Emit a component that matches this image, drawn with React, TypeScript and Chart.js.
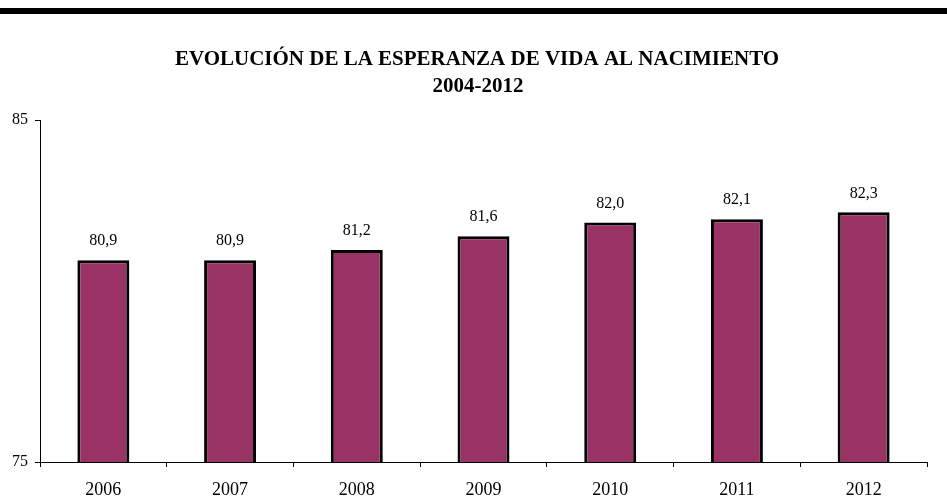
import React, { useEffect, useRef } from "react";
import { Chart, registerables } from "chart.js";

Chart.register(...registerables);

const categories = ["2006", "2007", "2008", "2009", "2010", "2011", "2012"];
const values = [80.9, 80.9, 81.2, 81.6, 82.0, 82.1, 82.3];
const yTicks = [75, 85];
const titleLines = ["EVOLUCIÓN DE LA ESPERANZA DE VIDA AL NACIMIENTO", "2004-2012"];

const SERIF = "'Liberation Serif', 'Times New Roman', serif";

const decorPlugin = {
  id: "decor",
  afterDraw(chart: any) {
    const ctx = chart.ctx;
    ctx.save();
    // top black rule
    ctx.fillStyle = "#000";
    ctx.fillRect(0, 8, chart.width, 6);
    // title
    ctx.font = `bold 21px ${SERIF}`;
    ctx.textAlign = "center";
    ctx.textBaseline = "middle";
    ctx.fillText(titleLines[0], 477, 60);
    ctx.fillText(titleLines[1], 478, 87);
    // data labels
    ctx.font = `16px ${SERIF}`;
    const meta = chart.getDatasetMeta(0);
    meta.data.forEach((bar: any, i: number) => {
      ctx.fillText(values[i].toFixed(1).replace(".", ","), bar.x, bar.y - 19);
    });
    ctx.restore();
  },
};

export default function App() {
  const ref = useRef<HTMLCanvasElement>(null);
  useEffect(() => {
    if (!ref.current) return;
    const chart = new Chart(ref.current, {
      type: "bar",
      data: {
        labels: categories,
        datasets: [
          {
            data: values,
            backgroundColor: "#993366",
            borderColor: "#000",
            borderWidth: 3,
            barPercentage: 0.41,
            categoryPercentage: 1,
          },
        ],
      },
      options: {
        responsive: false,
        animation: false,
        devicePixelRatio: 1,
        layout: { padding: { top: 120, right: 20, left: 0, bottom: 0 } },
        plugins: { legend: { display: false }, title: { display: false }, tooltip: { enabled: false } },
        scales: {
          x: {
            offset: true,
            grid: { offset: true, drawOnChartArea: false, drawTicks: true, tickLength: 5, color: "#000" },
            border: { display: true, color: "#000", width: 1 },
            ticks: { color: "#000", font: { family: SERIF, size: 18 }, padding: 12 },
            afterFit: (axis: any) => {
              axis.height = 37;
            },
          },
          y: {
            min: 75,
            max: 85,
            afterBuildTicks: (axis: any) => {
              axis.ticks = yTicks.map((v) => ({ value: v }));
            },
            grid: { drawOnChartArea: false, drawTicks: true, tickLength: 5, color: "#000" },
            border: { display: true, color: "#000", width: 1 },
            ticks: { color: "#000", font: { family: SERIF, size: 16 }, padding: 7 },
            afterFit: (axis: any) => {
              axis.width = 40;
            },
          },
        },
      },
      plugins: [decorPlugin],
    });
    return () => chart.destroy();
  }, []);
  return (
    <div style={{ position: "absolute", left: 0, top: 0, width: 947, height: 499, background: "#fff" }}>
      <canvas ref={ref} width={947} height={499} style={{ display: "block" }} />
    </div>
  );
}
